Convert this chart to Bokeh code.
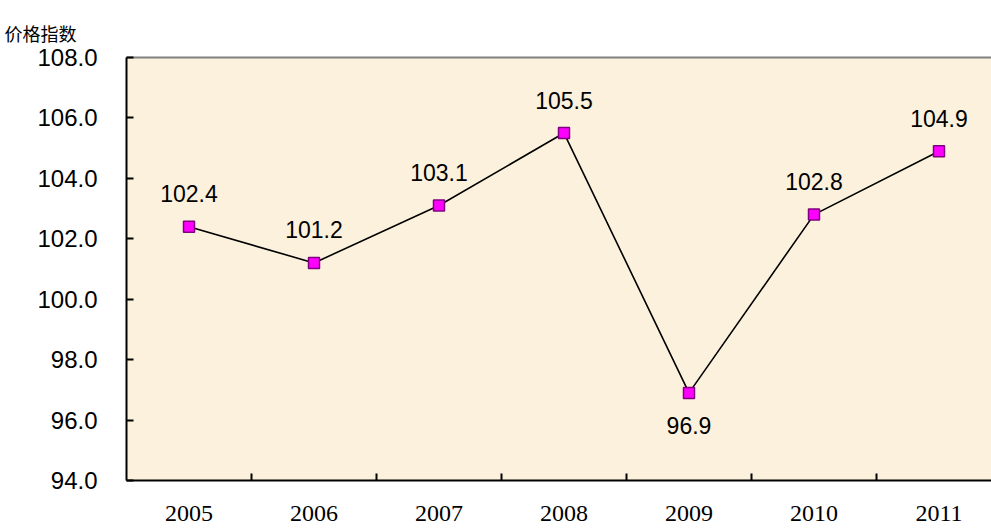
from bokeh.plotting import figure
from bokeh.models import ColumnDataSource, FixedTicker, Range1d, LinearAxis, Title
from bokeh.core.properties import value
from bokeh.embed import file_html
from bokeh.resources import INLINE

years = ["2005", "2006", "2007", "2008", "2009", "2010", "2011"]
index_values = [102.4, 101.2, 103.1, 105.5, 96.9, 102.8, 104.9]
label_texts = ["102.4", "101.2", "103.1", "105.5", "96.9", "102.8", "104.9"]
label_below = [False, False, False, False, True, False, False]
y_ticks = [94, 96, 98, 100, 102, 104, 106, 108]

xs = list(range(len(years)))
src = ColumnDataSource(dict(
    x=xs, y=index_values, t=label_texts,
    yo=[33 if b else -33 for b in label_below],
))

p = figure(width=991, height=532, output_backend="svg", toolbar_location=None,
           x_range=Range1d(-0.5, 6.42), y_range=Range1d(94, 108),
           min_border_left=126, min_border_top=57, min_border_bottom=52,
           min_border_right=0)
p.background_fill_color = "#FBF1DC"
p.border_fill_color = "white"
p.outline_line_color = None
p.grid.visible = False

# top border as a bare axis
top = LinearAxis(ticker=FixedTicker(ticks=[]), axis_line_color="#808080",
                 axis_line_width=2, major_tick_line_color=None,
                 major_tick_in=0, major_tick_out=0, minor_tick_in=0,
                 minor_tick_out=0, major_label_standoff=0,
                 minor_tick_line_color=None, major_label_text_font_size="0px")
p.add_layout(top, "above")

p.add_layout(Title(text="价格指数", align="left", offset=-122,
                   vertical_align="middle",
                   text_font="Noto Sans CJK SC", text_font_size="18px",
                   text_font_style="normal", text_color="black",
                   standoff=22), "above")

# y axis
p.yaxis[0].ticker = FixedTicker(ticks=y_ticks)
yax = p.left[0]
yax.major_label_overrides = {t: f"{t:.1f}" for t in y_ticks}
yax.axis_line_color = "black"
yax.axis_line_width = 2
yax.major_tick_in = 7
yax.major_tick_out = 0
yax.major_tick_line_width = 2
yax.minor_tick_line_color = None
yax.major_label_standoff = 29
yax.major_label_text_font = "Liberation Sans"
yax.major_label_text_font_size = "24px"
yax.major_label_text_color = "black"

# x axis: labels at centers, tick marks at boundaries
xax = p.below[0]
xax.ticker = FixedTicker(ticks=xs, minor_ticks=[i + 0.5 for i in xs[:-1]])
xax.major_label_overrides = {i: y for i, y in zip(xs, years)}
xax.axis_line_color = "black"
xax.axis_line_width = 2
xax.major_tick_line_color = None
xax.minor_tick_in = 7
xax.minor_tick_out = 0
xax.minor_tick_line_width = 2
xax.minor_tick_line_color = "black"
xax.major_label_standoff = 19
xax.major_label_text_font = "Liberation Serif"
xax.major_label_text_font_size = "24px"
xax.major_label_text_color = "black"

p.line("x", "y", source=src, line_color="black", line_width=1.6)
p.scatter("x", "y", source=src, marker="square", size=11,
          fill_color="#FF00FF", line_color="#800080", line_width=1.5)
p.text("x", "y", text="t", source=src, y_offset="yo",
       text_align="center", text_baseline="middle",
       text_font=value("Liberation Sans"), text_font_size="23px",
       text_color="black")

open("out.html", "w").write(file_html(p, INLINE))
